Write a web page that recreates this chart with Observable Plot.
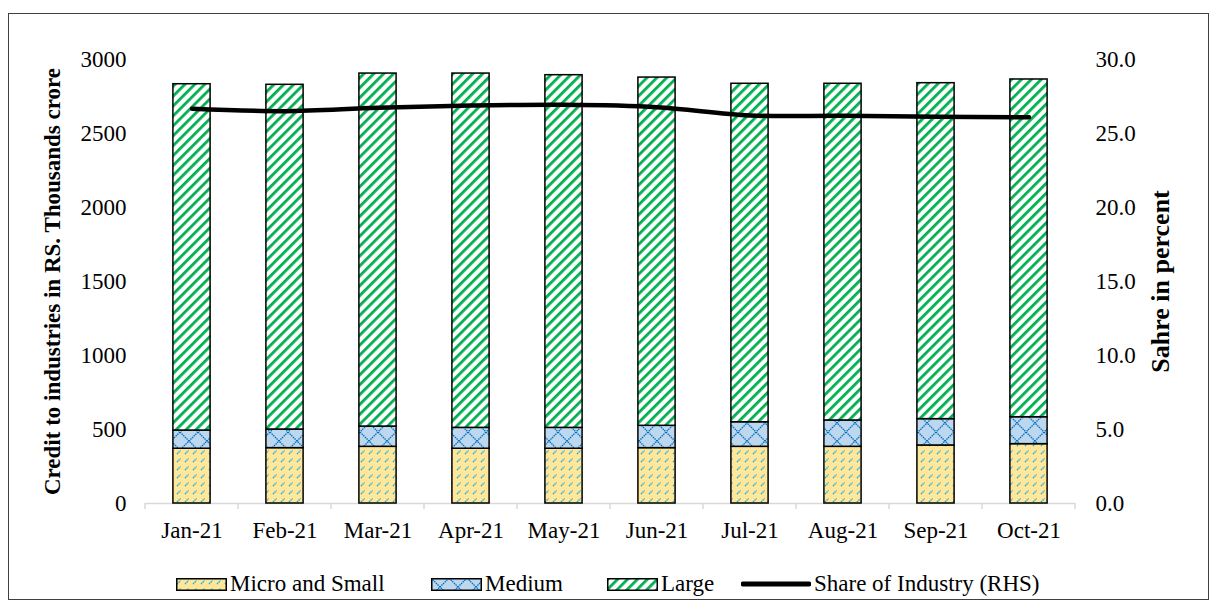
<!DOCTYPE html>
<html><head><meta charset="utf-8">
<script src="https://cdn.jsdelivr.net/npm/d3@7"></script>
<script src="https://cdn.jsdelivr.net/npm/@observablehq/plot@0.6"></script>
<style>
html,body{margin:0;padding:0;background:#fff;}
body{width:1216px;height:609px;position:relative;overflow:hidden;font-family:"Liberation Serif","Times New Roman",serif;}
#frame{position:absolute;left:8px;top:13px;width:1201px;height:587px;border:1.5px solid #404040;box-sizing:border-box;}
#chart{position:absolute;left:0;top:0;}
#legend{position:absolute;left:0;top:570px;width:1216px;height:28px;font-size:23px;color:#000;}
.item{position:absolute;top:0;height:28px;display:flex;align-items:center;white-space:nowrap;}
.sw{display:block;margin-right:3px;}
#defs{position:absolute;width:0;height:0;}
</style>
</head><body>
<svg id="defs" width="0" height="0">
  <defs>
    <pattern id="pMicro" patternUnits="userSpaceOnUse" width="8" height="8">
      <rect width="8" height="8" fill="#FFE699"/>
      <line x1="1" y1="6" x2="4.5" y2="2.5" stroke="#00B0F0" stroke-width="1.4" stroke-dasharray="1.4 0.8"/>
    </pattern>
    <pattern id="pMedium" patternUnits="userSpaceOnUse" width="18" height="18">
      <rect width="18" height="18" fill="#BDD7EE"/>
      <path d="M0,0L18,18M18,0L0,18" stroke="#0070C0" stroke-width="1.3" stroke-dasharray="1.5 0.8"/>
    </pattern>
    <pattern id="pLarge" patternUnits="userSpaceOnUse" width="7" height="7" patternTransform="rotate(45)">
      <rect width="7" height="7" fill="#ffffff"/>
      <rect width="2.8" height="7" fill="#00B050"/>
    </pattern>
  </defs>
</svg>
<div id="frame"></div>
<div id="chart"></div>
<div id="legend"></div>
<script>
const months = ["Jan-21","Feb-21","Mar-21","Apr-21","May-21","Jun-21","Jul-21","Aug-21","Sep-21","Oct-21"];
const microSmall = [370,374,383,370,370,374,383,383,392,401];
const medium = [123,126,137,141,141,151,166,178,178,182];
const large = [2340,2329,2385,2394,2383,2353,2287,2275,2270,2282];
const shareOfIndustry = [26.67,26.51,26.74,26.89,26.94,26.78,26.22,26.20,26.13,26.10];
const seriesNames = ["Micro and Small","Medium","Large"];
const lineName = "Share of Industry (RHS)";
const leftTicks = [0,500,1000,1500,2000,2500,3000];
const rightTicks = [0,5,10,15,20,25,30];
const leftTitle = "Credit to industries in RS. Thousands crore";
const rightTitle = "Sahre in percent";
const fills = ["url(#pMicro)","url(#pMedium)","url(#pLarge)"];

const RATIO = 3000 / 30; // left-axis units per right-axis unit
const values = [microSmall, medium, large];
const rows = months.flatMap((m, i) => seriesNames.map((s, k) => ({month: m, series: s, value: values[k][i]})));
const lineRows = months.map((m, i) => ({month: m, share: shareOfIndustry[i] * RATIO}));

const W = 1216, H = 560;
const plot = Plot.plot({
  width: W, height: H,
  marginLeft: 145, marginRight: 141, marginTop: 59, marginBottom: 57,
  style: {fontFamily: '"Liberation Serif","Times New Roman",serif', fontSize: "23px", color: "#000", background: "transparent"},
  x: {type: "band", domain: months, paddingInner: 0.6, paddingOuter: 0.3, round: false, label: null},
  y: {domain: [0, 3000], label: null},
  color: {type: "ordinal", domain: seriesNames, range: fills},
  marks: [
    Plot.ruleY([0], {stroke: "#D9D9D9", strokeWidth: 1.5}),
    Plot.barY(rows, {x: "month", y: "value", fill: "series", stroke: "#000", strokeWidth: 1.5}),
    Plot.line(lineRows, {x: "month", y: "share", stroke: "#000", strokeWidth: 4.5, curve: "catmull-rom", strokeLinecap: "round"}),
    Plot.axisX({tickSize: 0, tickPadding: 18, label: null}),
    Plot.axisY({anchor: "left", ticks: leftTicks, tickFormat: d => String(d), tickSize: 0, tickPadding: 19, label: null}),
    Plot.axisY({anchor: "right", ticks: rightTicks.map(t => t * RATIO), tickFormat: d => (d / RATIO).toFixed(1), tickSize: 0, tickPadding: 20, label: null}),
    Plot.text([leftTitle], {text: d => d, frameAnchor: "left", dx: -93, rotate: -90, textAnchor: "middle", fontWeight: "bold", fontSize: 23}),
    Plot.text([rightTitle], {text: d => d, frameAnchor: "right", dx: 85, rotate: -90, textAnchor: "middle", fontWeight: "bold", fontSize: 26})
  ]
});
document.getElementById("chart").appendChild(plot);

// category boundary tick marks on the x axis (Excel style), from Plot's x scale
const xs = plot.scale("x");
const ys = plot.scale("y");
const bw = xs.bandwidth, step = xs.step;
const y0 = ys.apply(0);
const bounds = months.map(m => xs.apply(m) + bw / 2 - step / 2);
bounds.push(bounds[bounds.length - 1] + step);
const g = d3.select(plot).insert("g", ":nth-child(2)").attr("stroke", "#D9D9D9").attr("stroke-width", 1.5);
bounds.forEach(b => g.append("line").attr("x1", b).attr("x2", b).attr("y1", y0).attr("y2", y0 + 6));

// legend
const legend = document.getElementById("legend");
const itemLeft = [176, 431, 607, 741];
seriesNames.forEach((s, k) => {
  const it = document.createElement("div"); it.className = "item"; it.style.left = itemLeft[k] + "px";
  it.innerHTML = `<svg class="sw" width="51" height="13"><rect x="0.75" y="0.75" width="49.5" height="11.5" fill="${fills[k]}" stroke="#000" stroke-width="1.5"/></svg><span>${s}</span>`;
  legend.appendChild(it);
});
const li = document.createElement("div"); li.className = "item"; li.style.left = itemLeft[3] + "px";
li.innerHTML = `<svg class="sw" width="70" height="12"><line x1="2" x2="68" y1="6" y2="6" stroke="#000" stroke-width="5" stroke-linecap="round"/></svg><span>${lineName}</span>`;
legend.appendChild(li);
</script>
</body></html>
